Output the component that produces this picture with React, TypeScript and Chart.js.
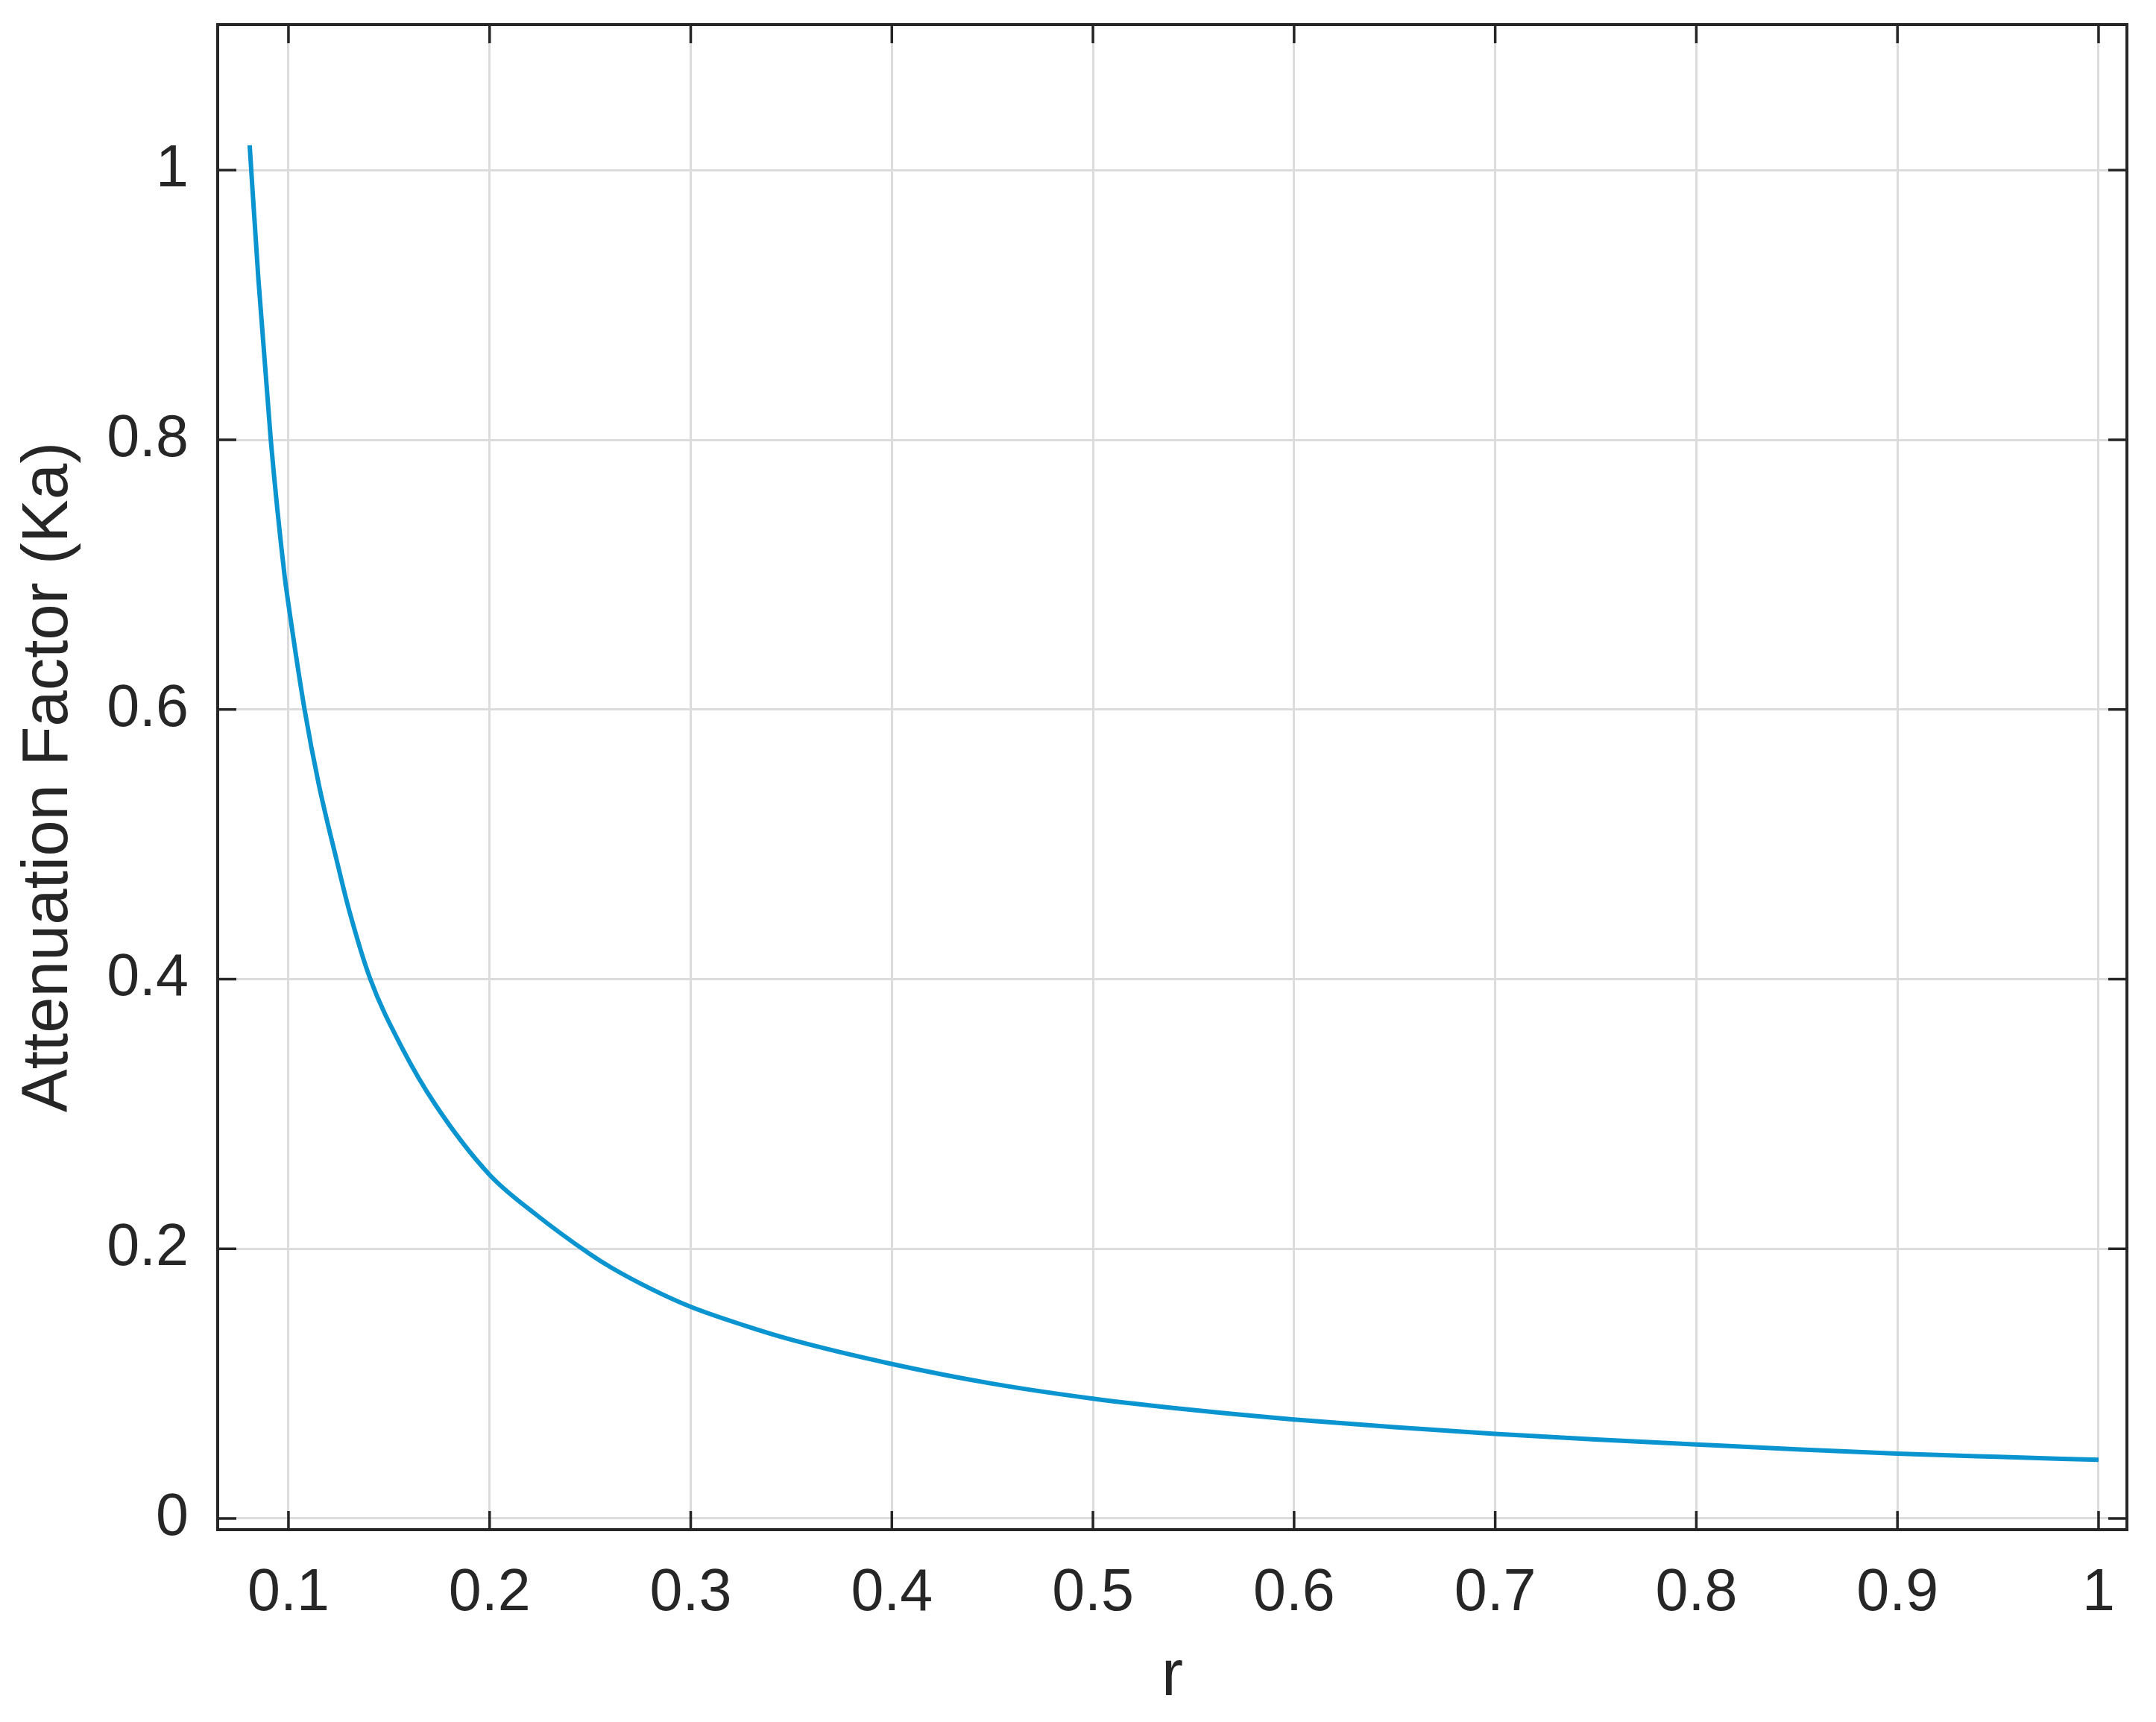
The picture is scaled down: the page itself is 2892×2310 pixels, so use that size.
import React, { useEffect, useRef } from 'react';
import { Chart, registerables } from 'chart.js';

Chart.register(...registerables);

// r values (x)
const rValues = [
  0.0807, 0.085, 0.0912, 0.098, 0.1, 0.108, 0.115, 0.124, 0.13, 0.1407,
  0.1565, 0.173, 0.2, 0.2226, 0.25, 0.2607, 0.28, 0.3, 0.327, 0.35,
  0.4, 0.45, 0.5, 0.55, 0.6, 0.65, 0.7, 0.75, 0.8, 0.85, 0.9, 0.95, 1.0,
];
// Attenuation factor Ka (y)
const kaValues = [
  1.0185, 0.92, 0.8, 0.7, 0.678, 0.6, 0.545, 0.488, 0.452, 0.4,
  0.349, 0.307, 0.2549, 0.226, 0.196, 0.1859, 0.1705, 0.157, 0.143, 0.1326,
  0.1146, 0.1, 0.0889, 0.0804, 0.0734, 0.0677, 0.0628, 0.0586, 0.0549, 0.0513, 0.0481, 0.0457, 0.0435,
];
const xTickValues = [0.1, 0.2, 0.3, 0.4, 0.5, 0.6, 0.7, 0.8, 0.9, 1];
const yTickValues = [0, 0.2, 0.4, 0.6, 0.8, 1];
const xTitle = 'r';
const yTitle = 'Attenuation Factor (Ka)';

const X_RANGE = [0.0648, 1.0141];
const Y_RANGE = [-0.0083, 1.108];

const AXIS_COLOR = '#262626';
const GRID_COLOR = '#dcdcdc';
const LINE_COLOR = '#0a94d0';
const FONT_FAMILY = '"Liberation Sans", Arial, Helvetica, sans-serif';

const CANVAS_W = 2876;
const CANVAS_H = 2294;

const boxPlugin = {
  id: 'matlabBox',
  afterDraw(chart: any) {
    const { ctx, chartArea: a, scales } = chart;
    const x = scales.x;
    const y = scales.y;
    ctx.save();
    ctx.strokeStyle = AXIS_COLOR;
    ctx.lineWidth = 4;
    ctx.strokeRect(a.left, a.top, a.right - a.left, a.bottom - a.top);
    const L = 25;
    ctx.lineWidth = 3.5;
    ctx.beginPath();
    x.ticks.forEach((t: any) => {
      const px = x.getPixelForValue(t.value);
      ctx.moveTo(px, a.bottom);
      ctx.lineTo(px, a.bottom - L);
      ctx.moveTo(px, a.top);
      ctx.lineTo(px, a.top + L);
    });
    y.ticks.forEach((t: any) => {
      const py = y.getPixelForValue(t.value);
      ctx.moveTo(a.left, py);
      ctx.lineTo(a.left + L, py);
      ctx.moveTo(a.right, py);
      ctx.lineTo(a.right - L, py);
    });
    ctx.stroke();
    ctx.restore();
  },
};

export default function App() {
  const ref = useRef<HTMLCanvasElement | null>(null);

  useEffect(() => {
    if (!ref.current) return;
    const data = rValues.map((r, i) => ({ x: r, y: kaValues[i] }));
    const chart = new Chart(ref.current, {
      type: 'line',
      data: {
        datasets: [
          {
            data,
            borderColor: LINE_COLOR,
            borderWidth: 6,
            pointRadius: 0,
            fill: false,
            cubicInterpolationMode: 'monotone',
          },
        ],
      },
      options: {
        responsive: false,
        animation: false,
        layout: { padding: { top: 25, right: 31, left: 0, bottom: 0 } },
        plugins: {
          legend: { display: false },
          tooltip: { enabled: false },
        },
        scales: {
          x: {
            type: 'linear',
            min: X_RANGE[0],
            max: X_RANGE[1],
            afterBuildTicks: (s: any) => {
              s.ticks = xTickValues.map((v) => ({ value: v }));
            },
            afterFit: (s: any) => {
              s.height = 250;
              s.paddingLeft = 0;
              s.paddingRight = 0;
            },
            grid: { color: GRID_COLOR, lineWidth: 3, drawTicks: false },
            border: { display: false },
            ticks: {
              color: AXIS_COLOR,
              padding: 39,
              maxRotation: 0,
              autoSkip: false,
              font: { family: FONT_FAMILY, size: 79 },
              callback: (v: any) => String(v),
            },
            title: {
              display: true,
              text: xTitle,
              color: AXIS_COLOR,
              font: { family: FONT_FAMILY, size: 87 },
              padding: { top: 0, bottom: 0 },
            },
          },
          y: {
            type: 'linear',
            min: Y_RANGE[0],
            max: Y_RANGE[1],
            afterBuildTicks: (s: any) => {
              s.ticks = yTickValues.map((v) => ({ value: v }));
            },
            afterFit: (s: any) => {
              s.width = 284;
              s.paddingTop = 0;
              s.paddingBottom = 0;
            },
            grid: { color: GRID_COLOR, lineWidth: 3, drawTicks: false },
            border: { display: false },
            ticks: {
              color: AXIS_COLOR,
              padding: 39,
              autoSkip: false,
              font: { family: FONT_FAMILY, size: 79 },
              callback: (v: any) => String(v),
            },
            title: {
              display: true,
              text: yTitle,
              color: AXIS_COLOR,
              font: { family: FONT_FAMILY, size: 87 },
              padding: { top: 6, bottom: 0 },
            },
          },
        },
      },
      plugins: [boxPlugin],
    });
    return () => chart.destroy();
  }, []);

  return (
    <canvas
      ref={ref}
      width={CANVAS_W}
      height={CANVAS_H}
      style={{ display: 'block', width: CANVAS_W, height: CANVAS_H, background: '#ffffff' }}
    />
  );
}
